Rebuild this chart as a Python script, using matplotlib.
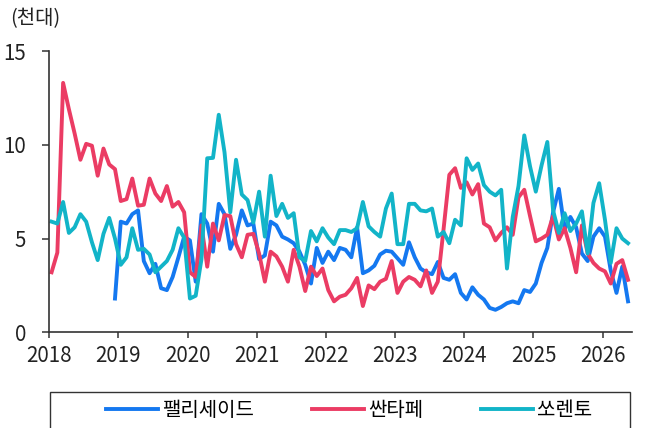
import numpy as np
import matplotlib
matplotlib.use("Agg")
import matplotlib.pyplot as plt
from matplotlib.patches import Rectangle

plt.rcParams['font.family'] = ['Noto Sans CJK KR', 'DejaVu Sans']

# monthly sales (thousand units), Jan 2018 .. May 2026
santafe = [3.2, 4.25, 13.3, 11.9, 10.6, 9.2, 10.05, 9.95, 8.35, 9.8, 8.95, 8.7,
           7.0, 7.1, 8.2, 6.75, 6.8, 8.2, 7.4, 7.0, 7.8, 6.7, 6.95, 6.4,
           3.2, 2.95, 5.7, 3.5, 5.8, 4.9, 6.25, 6.2, 4.7, 4.0, 5.2, 5.25,
           4.2, 2.7, 4.3, 4.05, 3.5, 2.7, 4.4, 3.5, 2.2, 3.5, 3.0, 3.4,
           2.25, 1.65, 1.9, 2.0, 2.35, 2.9, 1.4, 2.5, 2.3, 2.7, 2.85, 3.8,
           2.1, 2.7, 2.95, 2.8, 2.45, 3.3, 2.1, 2.7, 5.5, 8.4, 8.75, 7.7,
           8.0, 7.35, 7.9, 5.8, 5.6, 4.9, 5.3, 5.6, 5.2, 7.2, 7.6, 6.2,
           4.85, 5.0, 5.2, 6.2, 4.95, 5.55, 4.5, 3.2, 5.7, 4.2, 3.7, 3.4,
           3.25, 2.6, 3.65, 3.85, 2.8]
sorento = [5.9, 5.8, 6.95, 5.3, 5.6, 6.3, 5.9, 4.8, 3.85, 5.25, 6.1, 5.0,
           3.6, 4.0, 5.55, 4.4, 4.45, 4.15, 3.2, 3.5, 3.8, 4.4, 5.55, 5.05,
           1.8, 1.95, 3.9, 9.28, 9.3, 11.6, 9.6, 6.4, 9.2, 7.35, 7.05, 5.85,
           7.5, 5.1, 8.35, 6.2, 6.85, 6.1, 6.35, 4.0, 3.8, 5.4, 4.85, 5.55,
           5.05, 4.7, 5.45, 5.45, 5.35, 5.55, 6.95, 5.65, 5.35, 5.1, 6.6, 7.4,
           4.7, 4.7, 6.85, 6.85, 6.5, 6.45, 6.6, 5.1, 5.35, 4.75, 6.0, 5.7,
           9.28, 8.66, 9.0, 7.85, 7.5, 7.3, 7.6, 3.4, 6.15, 7.8, 10.5, 8.85,
           7.5, 8.9, 10.15, 6.5, 5.3, 6.35, 5.4, 5.8, 6.45, 4.2, 6.9, 7.95,
           6.0, 3.7, 5.55, 5.0, 4.75]
# palisade starts Dec 2018
palisade = [1.8, 5.9, 5.8, 6.3, 6.5, 3.8, 3.15, 3.65, 2.35, 2.25, 2.95, 4.0, 5.1,
            4.9, 2.7, 6.3, 5.8, 4.3, 6.85, 6.3, 4.45, 5.2, 6.5, 5.7, 5.8,
            3.9, 4.1, 5.9, 5.7, 5.1, 4.95, 4.75, 4.3, 3.6, 2.6, 4.5, 3.7,
            4.3, 3.85, 4.5, 4.4, 4.0, 5.6, 3.15, 3.3, 3.55, 4.15, 4.35, 4.3,
            3.95, 3.6, 4.8, 4.0, 3.4, 3.2, 3.1, 3.75, 2.9, 2.8, 3.1, 2.1,
            1.75, 2.4, 2.0, 1.75, 1.3, 1.2, 1.35, 1.55, 1.65, 1.55, 2.25, 2.15,
            2.6, 3.7, 4.5, 6.4, 7.65, 5.5, 6.15, 5.6, 4.2, 3.8, 5.1, 5.55,
            5.1, 3.3, 2.1, 3.5, 1.65]
labels = ["팰리세이드", "싼타페", "쏘렌토"]
colors = ["#1478F0", "#EB3C64", "#12B4C8"]
year_ticks = list(range(2018, 2027))

months = np.arange(len(santafe))
x = 2018 + (months + 0.4) / 12
x_pal = x[len(santafe) - len(palisade):]

fig = plt.figure(figsize=(6.45, 4.28), dpi=100)
ax = fig.add_axes([0.0764, 0.2236, 0.9030, 0.6572])

ax.plot(x_pal, palisade, color=colors[0], lw=2.8, label=labels[0])
ax.plot(x, santafe, color=colors[1], lw=2.8, label=labels[1])
ax.plot(x, sorento, color=colors[2], lw=2.8, label=labels[2])

ax.set_xlim(2018, 2026.42)
ax.set_ylim(0, 15)
ax.set_xticks(year_ticks)
ax.set_yticks([0, 5, 10, 15])
for s in ['top', 'right']:
    ax.spines[s].set_visible(False)
for s in ['left', 'bottom']:
    ax.spines[s].set_color('#333333')
    ax.spines[s].set_linewidth(1.2)
ax.tick_params(axis='x', direction='out', length=4.5, width=1.1, color='#333333',
               labelsize=14.8, labelcolor='#222222', pad=5)
ax.tick_params(axis='y', direction='out', length=4.8, width=1.1, color='#333333',
               labelsize=14.8, labelcolor='#222222', pad=12)

fig.text(10 / 645, 1 - 19 / 428, "(천대)", fontsize=14.4, color='#222222',
         ha='left', va='center')

# legend box, cut at the bottom edge like the source
fig.add_artist(Rectangle((50.4 / 645, -0.05), (630 - 50.4) / 645,
                         (428 - 391.7) / 428 + 0.05, transform=fig.transFigure,
                         fill=False, edgecolor='#333333', lw=1.0))
fig.legend(loc='center', bbox_to_anchor=(349 / 645, 1 - 410.7 / 428), ncol=3,
           frameon=False, fontsize=14.4, handlelength=2.6, handletextpad=0.2,
           columnspacing=2.9, borderpad=0)

fig.savefig("out.png", dpi=100)
